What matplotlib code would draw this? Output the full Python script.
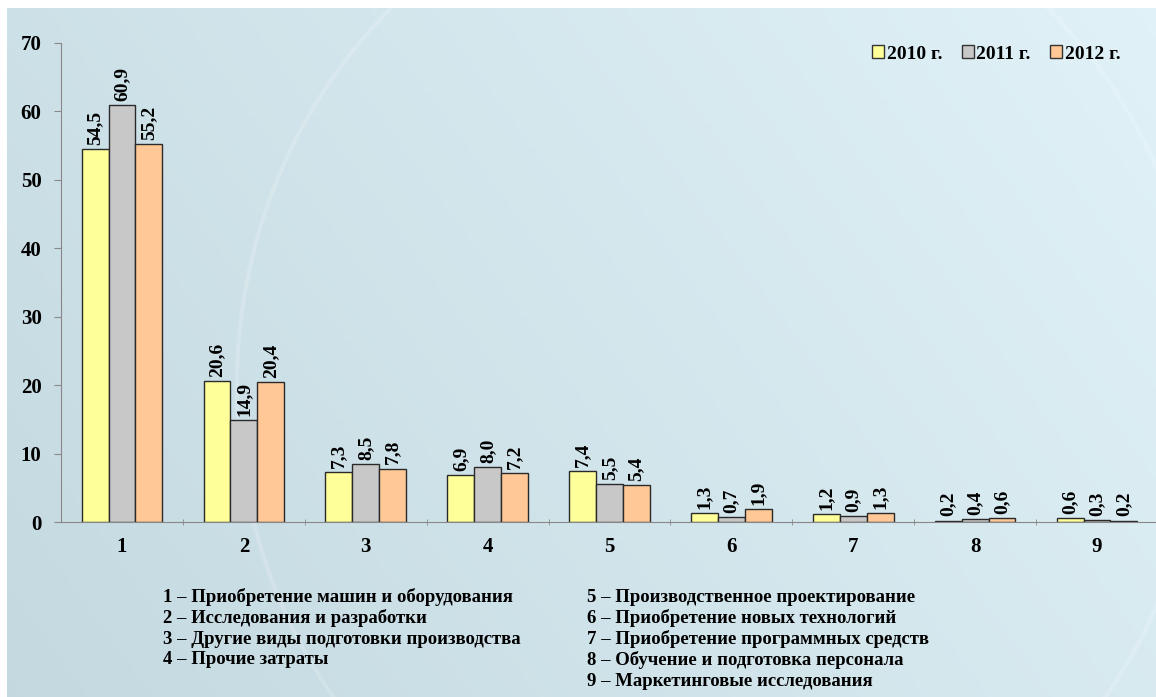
import numpy as np
import matplotlib
matplotlib.use("Agg")
import matplotlib.pyplot as plt
from matplotlib.patches import Patch

categories = ["1", "2", "3", "4", "5", "6", "7", "8", "9"]
series_names = ["2010 г.", "2011 г.", "2012 г."]
v2010 = [54.5, 20.6, 7.3, 6.9, 7.4, 1.3, 1.2, 0.2, 0.6]
v2011 = [60.9, 14.9, 8.5, 8.0, 5.5, 0.7, 0.9, 0.4, 0.3]
v2012 = [55.2, 20.4, 7.8, 7.2, 5.4, 1.9, 1.3, 0.6, 0.2]
descriptions_left = ["1 – Приобретение машин и оборудования",
                     "2 – Исследования и разработки",
                     "3 – Другие виды подготовки производства",
                     "4 – Прочие затраты"]
descriptions_right = ["5 – Производственное проектирование",
                      "6 – Приобретение новых технологий",
                      "7 – Приобретение программных средств",
                      "8 – Обучение и подготовка персонала",
                      "9 – Маркетинговые исследования"]

colors = ["#ffff99", "#c8c8c8", "#ffc896"]
FONT = ["Liberation Serif", "DejaVu Serif"]

fig = plt.figure(figsize=(11.56, 6.97), dpi=100)
fig.patch.set_facecolor("white")

# background gradient
bg = fig.add_axes([7/1156, 0, 1 - 7/1156, 1 - 8/697])
bg.set_axis_off()
h, w = 200, 300
yy, xx = np.mgrid[0:h, 0:w]
t = (xx / w) * 0.7 + (1 - yy / h) * 0.3
c0 = np.array([0.77, 0.85, 0.88])
c1 = np.array([0.88, 0.95, 0.97])
img = c0[None, None, :] * (1 - t[..., None]) + c1[None, None, :] * t[..., None]
bg.imshow(img, aspect="auto", extent=[0, 1, 0, 1], zorder=0)
theta = np.linspace(0, 2 * np.pi, 400)
bg.plot(0.62 + 0.42 * np.cos(theta), 0.45 + 0.75 * np.sin(theta), color="white", alpha=0.18, lw=3)
bg.set_xlim(0, 1)
bg.set_ylim(0, 1)

ax = fig.add_axes([61/1156, 175/697, 1097/1156, 479/697])
ax.patch.set_alpha(0)
x = np.arange(len(categories))
width = 0.22
series = [v2010, v2011, v2012]
for i, (vals, col, name) in enumerate(zip(series, colors, series_names)):
    pos = x + (i - 1) * width
    ax.bar(pos, vals, width=width, color=col, edgecolor="#2a2a2a", linewidth=1.0, label=name)
    for px_, v in zip(pos, vals):
        ax.annotate(f"{v:.1f}".replace(".", ","), (px_, v), xytext=(0, 3), textcoords="offset points",
                    rotation=90, ha="center", va="bottom", fontsize=14, fontweight="bold", family=FONT)

ax.set_xlim(-0.5, len(categories) - 0.5)
ax.set_ylim(0, 70)
ax.set_yticks(range(0, 71, 10))
ax.set_xticks(x)
ax.set_xticklabels(categories)
ax.set_xticks(np.arange(0.5, len(categories) - 0.5, 1), minor=True)
ax.tick_params(axis="x", which="major", length=0, pad=11)
ax.tick_params(axis="x", which="minor", length=5, color="#888888", direction="inout")
ax.tick_params(axis="y", length=5, color="#888888", pad=9)
for lbl in ax.get_xticklabels() + ax.get_yticklabels():
    lbl.set_fontsize(15)
    lbl.set_fontweight("bold")
    lbl.set_family(FONT)
for s in ["top", "right"]:
    ax.spines[s].set_visible(False)
for s in ["left", "bottom"]:
    ax.spines[s].set_color("#888888")

handles = [Patch(facecolor=c, edgecolor="#333333", label=n) for c, n in zip(colors, series_names)]
fig.legend(handles=handles, loc="upper right", bbox_to_anchor=(1138/1156, 1 - 28/697), ncol=3,
           frameon=False, prop={"family": FONT, "weight": "bold", "size": 14},
           handlelength=0.6, handleheight=0.6, handletextpad=0.15, columnspacing=1.0)

for i, s in enumerate(descriptions_left):
    fig.text(163/1156, 1 - (597 + 21 * i)/697, s, fontsize=13.5, fontweight="bold", family=FONT,
             va="center", ha="left")
for i, s in enumerate(descriptions_right):
    fig.text(587/1156, 1 - (597 + 21 * i)/697, s, fontsize=13.5, fontweight="bold", family=FONT,
             va="center", ha="left")

fig.savefig("out.png", dpi=100)
